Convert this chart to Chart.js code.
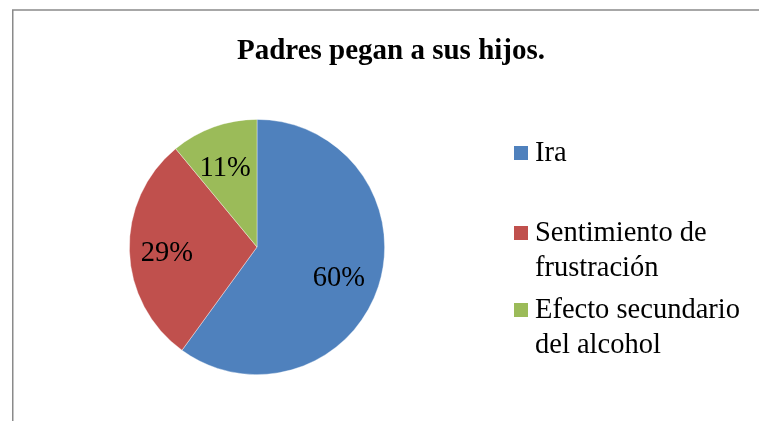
<!DOCTYPE html>
<html>
<head>
<meta charset="utf-8">
<script src="https://cdn.jsdelivr.net/npm/chart.js@4.4.0/dist/chart.umd.min.js"></script>
<style>
  body { margin: 0; background: #fff; }
  canvas { display: block; }
</style>
</head>
<body>
<canvas id="pieChart" width="759" height="421"></canvas>
<script>
const titleText = 'Padres pegan a sus hijos.';
const categories = ['Ira', 'Sentimiento de frustración', 'Efecto secundario del alcohol'];
// legend lines as wrapped in the original
const legendLines = [['Ira'], ['Sentimiento de', 'frustración'], ['Efecto secundario', 'del alcohol']];
const percentages = [60, 29, 11];
const colors = ['#4F81BD', '#C0504D', '#9BBB59'];

const serif = '"Liberation Serif", "Times New Roman", serif';

// frame, title, slice labels and legend
const decorations = {
  id: 'decorations',
  afterDraw(chart) {
    const ctx = chart.ctx;
    ctx.save();

    // outer frame (only top and left edges are visible)
    ctx.strokeStyle = '#8a8a8a';
    ctx.lineWidth = 1.5;
    ctx.beginPath();
    ctx.moveTo(760, 10);
    ctx.lineTo(12.75, 10);
    ctx.lineTo(12.75, 421);
    ctx.stroke();

    // title
    ctx.fillStyle = '#000';
    ctx.font = 'bold 29px ' + serif;
    ctx.textAlign = 'center';
    ctx.textBaseline = 'alphabetic';
    ctx.fillText(titleText, 391, 59);

    // percentage labels inside each slice
    const meta = chart.getDatasetMeta(0);
    ctx.font = '28.5px ' + serif;
    ctx.textBaseline = 'middle';
    meta.data.forEach(function (arc, i) {
      const p = arc.getProps(['x', 'y', 'startAngle', 'endAngle', 'outerRadius'], true);
      const mid = (p.startAngle + p.endAngle) / 2;
      const r = p.outerRadius * 0.69;
      ctx.fillText(percentages[i] + '%', p.x + Math.cos(mid) * r - 2, p.y + Math.sin(mid) * r + 4);
    });

    // legend
    const legendX = 514;
    const textX = 535;
    const firstBaselines = [161, 241, 318];
    const lineGap = 34.5;
    ctx.textAlign = 'left';
    ctx.textBaseline = 'alphabetic';
    legendLines.forEach(function (lines, i) {
      const base = firstBaselines[i];
      ctx.fillStyle = colors[i];
      ctx.fillRect(legendX, base - 15, 14, 14);
      ctx.fillStyle = '#000';
      lines.forEach(function (line, j) {
        ctx.fillText(line, textX, base + j * lineGap);
      });
    });

    ctx.restore();
  }
};

const ctx = document.getElementById('pieChart').getContext('2d');
const pieChart = new Chart(ctx, {
  type: 'pie',
  data: {
    labels: categories,
    datasets: [{
      data: percentages,
      backgroundColor: colors,
      borderColor: 'rgba(255,255,255,0.5)',
      borderWidth: 0.75
    }]
  },
  options: {
    responsive: false,
    animation: false,
    layout: {
      padding: { left: 129, right: 374, top: 119, bottom: 46 }
    },
    plugins: {
      legend: { display: false },
      title: { display: false },
      tooltip: { enabled: false }
    }
  },
  plugins: [decorations]
});
</script>
</body>
</html>
